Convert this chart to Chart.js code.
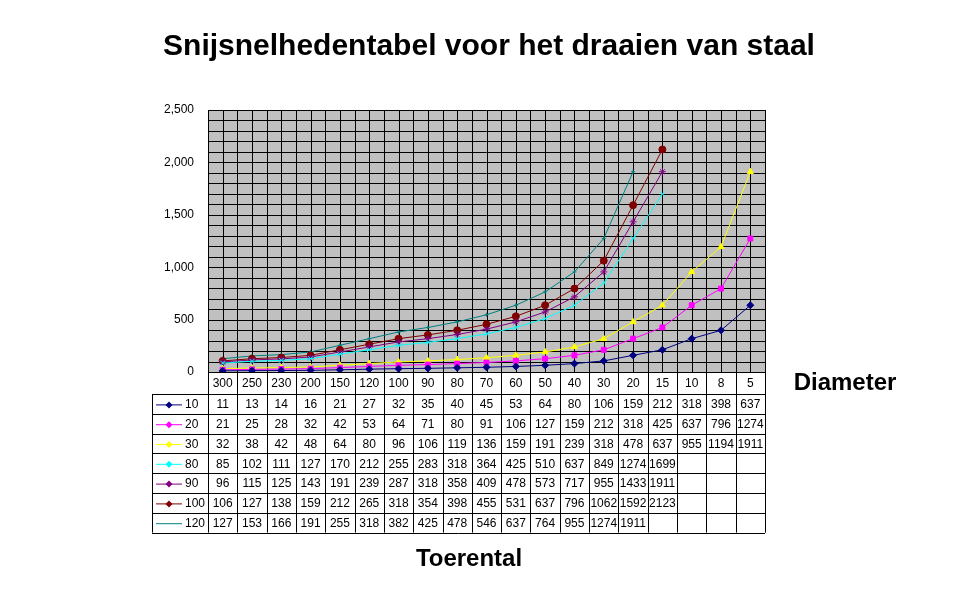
<!DOCTYPE html>
<html><head><meta charset="utf-8">
<script src="https://cdn.jsdelivr.net/npm/chart.js@4"></script>
<style>html,body{margin:0;padding:0;background:#fff}#w{width:978px;height:601px}</style>
</head><body><div id="w"><canvas id="c" width="978" height="601"></canvas></div>
<script>
const categories = ['300','250','230','200','150','120','100','90','80','70','60','50','40','30','20','15','10','8','5'];
const s10  = [11,13,14,16,21,27,32,35,40,45,53,64,80,106,159,212,318,398,637];
const s20  = [21,25,28,32,42,53,64,71,80,91,106,127,159,212,318,425,637,796,1274];
const s30  = [32,38,42,48,64,80,96,106,119,136,159,191,239,318,478,637,955,1194,1911];
const s80  = [85,102,111,127,170,212,255,283,318,364,425,510,637,849,1274,1699,null,null,null];
const s90  = [96,115,125,143,191,239,287,318,358,409,478,573,717,955,1433,1911,null,null,null];
const s100 = [106,127,138,159,212,265,318,354,398,455,531,637,796,1062,1592,2123,null,null,null];
const s120 = [127,153,166,191,255,318,382,425,478,546,637,764,955,1274,1911,null,null,null,null];
const seriesNames = ['10','20','30','80','90','100','120'];
const colors = ['#000080','#ff00ff','#ffff00','#00ffff','#800080','#800000','#008080'];
const shapes = ['rectRot','rect','triangle','crossRot','star','circle','cross'];
const allData = [s10,s20,s30,s80,s90,s100,s120];

const datasets = allData.map((d,i)=>({
  label: seriesNames[i], data: d, borderColor: colors[i], backgroundColor: colors[i],
  borderWidth: 1, pointStyle: shapes[i], pointRadius: i===6?2:3.5, pointBorderWidth: 1,
  tension: 0, spanGaps: false
}));

const tablePlugin = {
  id: 'tbl',
  beforeDatasetsDraw(chart){
    const {ctx, chartArea:a, scales:{x,y}} = chart;
    ctx.save();
    ctx.fillStyle='#c0c0c0'; ctx.fillRect(a.left,a.top,a.right-a.left,a.bottom-a.top);
    ctx.strokeStyle='#000'; ctx.lineWidth=1;
    ctx.beginPath();
    for(let v=0; v<=2500; v+=100){const py=Math.round(y.getPixelForValue(v))+0.5; ctx.moveTo(a.left,py); ctx.lineTo(a.right,py);}
    const cw=(a.right-a.left)/categories.length;
    for(let k=0;k<=categories.length*2;k++){const px=Math.round(a.left+k*cw/2)+0.5; ctx.moveTo(px,a.top); ctx.lineTo(px,a.bottom);}
    ctx.stroke();
    ctx.restore();
  },
  afterDraw(chart){
    const {ctx, chartArea:a, scales:{x}} = chart;
    const cw=(a.right-a.left)/categories.length;
    const top=a.bottom, hdrH=22, rowH=19.8, legL=152;
    ctx.save();
    ctx.strokeStyle='#000'; ctx.lineWidth=1; ctx.fillStyle='#000';
    ctx.font='12px Arial, "Liberation Sans"'; ctx.textAlign='center'; ctx.textBaseline='middle';
    const bottom=top+hdrH+rowH*allData.length;
    ctx.beginPath();
    // verticals
    for(let k=0;k<=categories.length;k++){const px=Math.round(a.left+k*cw)+0.5; ctx.moveTo(px,top); ctx.lineTo(px,bottom);}
    ctx.moveTo(legL+0.5,top+hdrH); ctx.lineTo(legL+0.5,bottom);
    // horizontals
    ctx.moveTo(a.left,Math.round(top)+0.5); ctx.lineTo(a.right,Math.round(top)+0.5);
    for(let r=0;r<=allData.length;r++){const py=Math.round(top+hdrH+r*rowH)+0.5; ctx.moveTo(legL,py); ctx.lineTo(a.right,py);}
    ctx.stroke();
    categories.forEach((c,i)=>ctx.fillText(c, x.getPixelForValue(i), top+hdrH/2+1));
    allData.forEach((d,r)=>{
      const cy=top+hdrH+r*rowH+rowH/2+1;
      d.forEach((v,i)=>{ if(v!==null) ctx.fillText(String(v), x.getPixelForValue(i), cy); });
      // legend key
      ctx.strokeStyle=colors[r]; ctx.beginPath(); ctx.moveTo(156,cy); ctx.lineTo(182,cy); ctx.stroke();
      ctx.fillStyle=colors[r];
      const mx=169;
      ctx.beginPath();
      ctx.moveTo(mx,cy-3.5);ctx.lineTo(mx+3.5,cy);ctx.lineTo(mx,cy+3.5);ctx.lineTo(mx-3.5,cy);ctx.closePath();
      if(r!==6) ctx.fill();
      ctx.fillStyle='#000'; ctx.textAlign='left';
      ctx.fillText(seriesNames[r], 185, cy);
      ctx.textAlign='center'; ctx.strokeStyle='#000';
    });
    // titles
    ctx.font='bold 30px Arial, "Liberation Sans"'; ctx.textAlign='center';
    ctx.fillText('Snijsnelhedentabel voor het draaien van staal', 489, 47);
    ctx.font='bold 24px Arial, "Liberation Sans"';
    ctx.fillText('Diameter', 845, 383);
    ctx.fillText('Toerental', 469, 559);
    ctx.restore();
  }
};

new Chart(document.getElementById('c'), {
  type: 'line',
  data: { labels: categories, datasets },
  options: {
    responsive: false, animation: false, devicePixelRatio: 1,
    layout: { padding: { top: 110, bottom: 229, left: 150, right: 213 } },
    plugins: { legend: { display: false }, tooltip: { enabled: false } },
    scales: {
      x: { display: false, offset: true },
      y: { min: 0, max: 2500, grid: { display: false }, border: { display: false },
           ticks: { stepSize: 500, color: '#000', font: { family: 'Arial, "Liberation Sans"', size: 12 }, padding: 6 },
           afterFit(s){ s.width = 58; } }
    }
  },
  plugins: [tablePlugin]
});
</script></body></html>
